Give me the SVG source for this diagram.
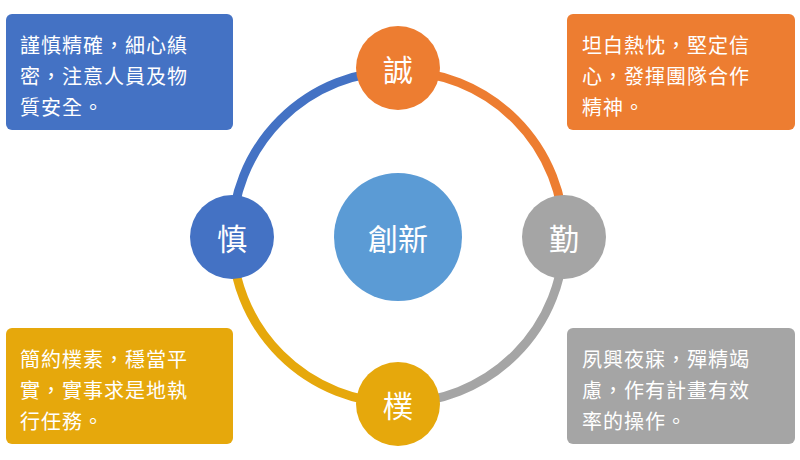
<svg xmlns="http://www.w3.org/2000/svg" width="800" height="460" viewBox="0 0 800 460">
<style>
.t{font-family:"Noto Sans CJK TC","Noto Sans CJK SC",sans-serif;fill:#fff;font-size:20px;letter-spacing:1px}
.n{font-family:"Noto Sans CJK TC","Noto Sans CJK SC",sans-serif;fill:#fff;font-size:30px;text-anchor:middle;dominant-baseline:central}
.a{fill:none;stroke-width:9}
</style>
<rect width="800" height="460" fill="#fff"/>
<g id="connectors">
<path class="a" stroke="#4472C4" d="M232,237 A166,166 0 0 1 398,71"/>
<path class="a" stroke="#ED7D31" d="M398,71 A166,166 0 0 1 564,237"/>
<path class="a" stroke="#A5A5A5" d="M564,237 A166,166 0 0 1 398,403"/>
<path class="a" stroke="#E6A80C" d="M398,403 A166,166 0 0 1 232,237"/>
</g>
<g id="center"><circle cx="398" cy="237" r="64" fill="#5B9BD5"/><text class="n" x="398" y="237" font-size="32">創新</text></g>
<g id="cheng"><circle cx="398" cy="68" r="42" fill="#ED7D31"/><text class="n" x="398" y="68">誠</text></g>
<g id="qin"><circle cx="564" cy="237" r="42" fill="#A5A5A5"/><text class="n" x="564" y="237">勤</text></g>
<g id="pu"><circle cx="398" cy="404" r="42" fill="#E6A80C"/><text class="n" x="398" y="404">樸</text></g>
<g id="shen"><circle cx="232" cy="237" r="42" fill="#4472C4"/><text class="n" x="232" y="237">慎</text></g>
<g id="box-tl"><rect x="6" y="14" width="227" height="116" rx="6" fill="#4472C4"/>
<text class="t" x="20" y="53">謹慎精確，細心縝</text><text class="t" x="20" y="84">密，注意人員及物</text><text class="t" x="20" y="115">質安全。</text></g>
<g id="box-tr"><rect x="567" y="14" width="228" height="116" rx="6" fill="#ED7D31"/>
<text class="t" x="582" y="53">坦白熱忱，堅定信</text><text class="t" x="582" y="84">心，發揮團隊合作</text><text class="t" x="582" y="115">精神。</text></g>
<g id="box-bl"><rect x="6" y="328" width="227" height="116" rx="6" fill="#E6A80C"/>
<text class="t" x="20" y="367">簡約樸素，穩當平</text><text class="t" x="20" y="398">實，實事求是地執</text><text class="t" x="20" y="429">行任務。</text></g>
<g id="box-br"><rect x="567" y="328" width="228" height="116" rx="6" fill="#A5A5A5"/>
<text class="t" x="582" y="367">夙興夜寐，殫精竭</text><text class="t" x="582" y="398">慮，作有計畫有效</text><text class="t" x="582" y="429">率的操作。</text></g>
</svg>
